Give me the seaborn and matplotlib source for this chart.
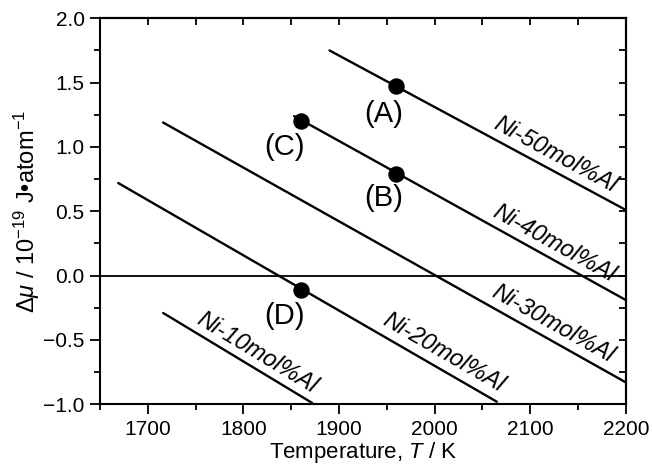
import numpy as np
import pandas as pd
import matplotlib
matplotlib.use("Agg")
import matplotlib.pyplot as plt
from matplotlib.ticker import MultipleLocator
import seaborn as sns

# ---- data ----
alloys = ["Ni-10mol%Al", "Ni-20mol%Al", "Ni-30mol%Al", "Ni-40mol%Al", "Ni-50mol%Al"]
t_start = [1716, 1669, 1716, 1853, 1890]
t_end = [1872, 2065, 2200, 2200, 2200]
mu_start = [-0.29, 0.72, 1.19, 1.24, 1.75]
mu_end = [-0.99, -0.98, -0.83, -0.19, 0.51]

point_labels = ["(A)", "(B)", "(C)", "(D)"]
point_T = [1960, 1960, 1860, 1860]
point_mu = [1.47, 0.79, 1.20, -0.11]

x_ticks = [1700, 1800, 1900, 2000, 2100, 2200]
y_ticks = [-1.0, -0.5, 0.0, 0.5, 1.0, 1.5, 2.0]

# ---- style ----
sns.set_theme(style="ticks")
plt.rcParams["font.family"] = ["Liberation Sans", "DejaVu Sans"]
plt.rcParams["mathtext.fontset"] = "custom"
plt.rcParams["mathtext.rm"] = "Liberation Sans"
plt.rcParams["mathtext.it"] = "Liberation Sans:italic"
plt.rcParams["mathtext.bf"] = "Liberation Sans:bold"

fig = plt.figure(figsize=(6.52, 4.75), dpi=100)
ax = fig.add_axes([0.1534, 0.1488, 0.8066, 0.8127])

rows = []
for name, t0, t1, m0, m1 in zip(alloys, t_start, t_end, mu_start, mu_end):
    rows.append({"alloy": name, "T": t0, "mu": m0})
    rows.append({"alloy": name, "T": t1, "mu": m1})
df = pd.DataFrame(rows)

sns.lineplot(data=df, x="T", y="mu", units="alloy", estimator=None,
             color="black", lw=1.7, ax=ax, legend=False, sort=False)

ax.axhline(0.0, color="black", lw=1.3, zorder=1)

pts = pd.DataFrame({"T": point_T, "mu": point_mu, "lab": point_labels})
sns.scatterplot(data=pts, x="T", y="mu", color="black", s=140,
                edgecolor="black", linewidth=0, ax=ax, zorder=5, legend=False)

ax.set_xlim(1650, 2200)
ax.set_ylim(-1.0, 2.0)
ax.set_xticks(x_ticks)
ax.set_yticks(y_ticks)
ax.set_yticklabels([f"{v:.1f}".replace("-", "\u2212") for v in y_ticks])
ax.xaxis.set_minor_locator(MultipleLocator(50))
ax.yaxis.set_minor_locator(MultipleLocator(0.25))
ax.tick_params(which="major", direction="out", length=7, width=1.3,
               labelsize=15, color="black", labelcolor="black", pad=4)
ax.tick_params(which="minor", direction="out", length=4, width=1.3, color="black")
for s in ax.spines.values():
    s.set_linewidth(1.5)
    s.set_color("black")
    s.set_visible(True)

secx = ax.secondary_xaxis("top")
secx.set_xticks(x_ticks)
secx.xaxis.set_minor_locator(MultipleLocator(50))
secx.tick_params(which="both", direction="in", length=5, width=1.3,
                 labeltop=False, color="black")
secx.spines["top"].set_linewidth(1.5)
secy = ax.secondary_yaxis("right")
secy.set_yticks(y_ticks)
secy.yaxis.set_minor_locator(MultipleLocator(0.25))
secy.tick_params(which="both", direction="in", length=5, width=1.3,
                 labelright=False, color="black")
secy.spines["right"].set_linewidth(1.5)

ax.set_xlabel(r"Temperature, $\mathit{T}$ / K", fontsize=16, color="black", labelpad=1)
ax.set_ylabel(r"$\mathit{\Delta\mu}$ / 10$^{-19}$ J" + "\u2022" + r"atom$^{-1}$",
              fontsize=17, color="black", labelpad=1)

# alloy labels along lines
label_pos = [(1814, -0.60), (2009, -0.60), (2124, -0.375), (2125, 0.254), (2126, 0.94)]
fig.canvas.draw()
for name, t0, t1, m0, m1, (lx, ly) in zip(alloys, t_start, t_end, mu_start, mu_end, label_pos):
    p0 = ax.transData.transform((t0, m0))
    p1 = ax.transData.transform((t1, m1))
    ang = np.degrees(np.arctan2(p1[1] - p0[1], p1[0] - p0[0]))
    ax.text(lx, ly, name, rotation=ang, rotation_mode="anchor",
            ha="center", va="center", fontsize=17, style="italic", color="black")

# point labels
plab_pos = [(1947, 1.26), (1947, 0.60), (1843, 1.00), (1843, -0.31)]
for lab, (lx, ly) in zip(point_labels, plab_pos):
    ax.text(lx, ly, lab, ha="center", va="center", fontsize=21, color="black")

ax.set_facecolor("white")
fig.patch.set_facecolor("white")
fig.savefig("out.png", dpi=100)
